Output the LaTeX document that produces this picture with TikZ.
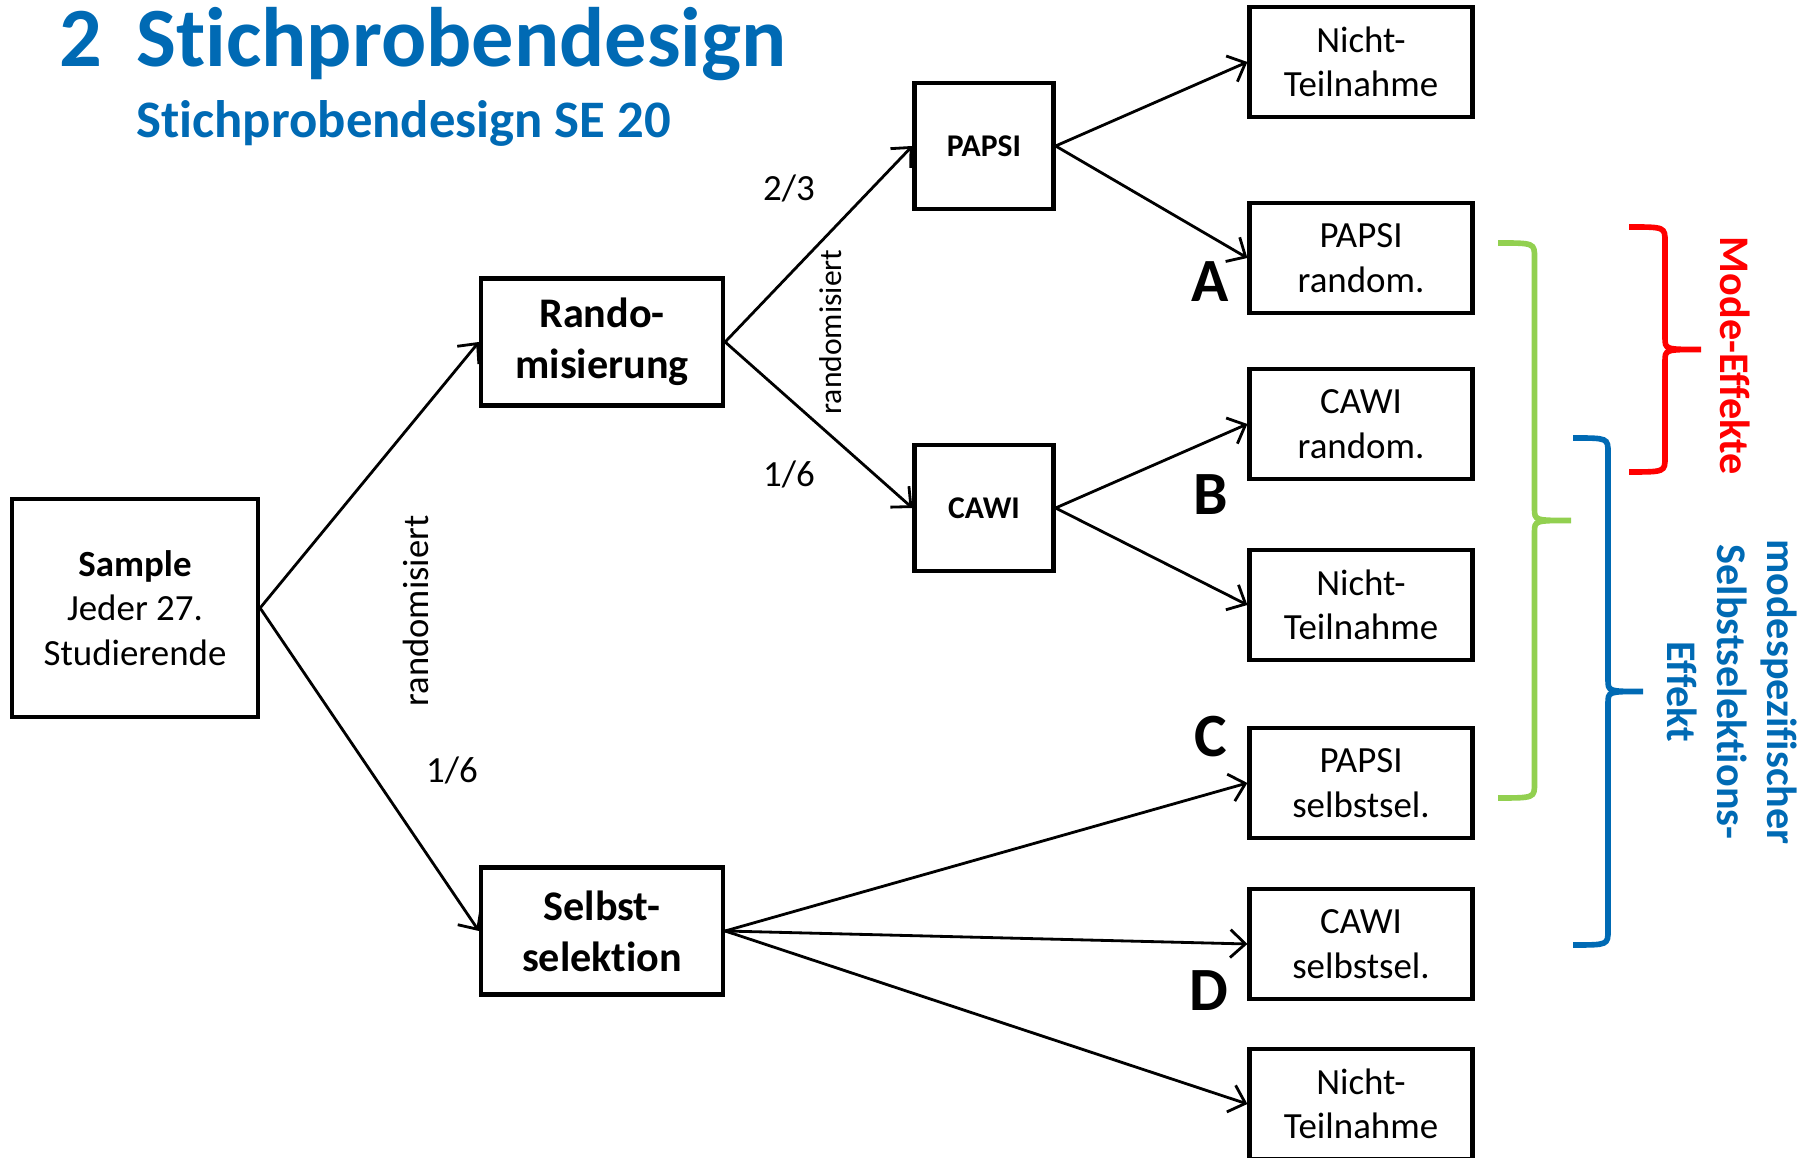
\documentclass[tikz,border=0pt]{standalone}
\usepackage{fontspec}
\setmainfont{Carlito}[Ligatures=NoCommon]
\usetikzlibrary{arrows.meta}
\definecolor{titleblue}{RGB}{0,106,180}
\definecolor{effgreen}{RGB}{146,208,80}
\definecolor{effred}{RGB}{255,0,0}
% colour, x, top, bottom, amplitude
\newcommand{\effbrace}[5]{%
  \draw[#1, line width=1.6pt] (#2,#3) .. controls ({#2+0.5*#5},#3) .. ({#2+0.5*#5},{#3-0.15})
    -- ({#2+0.5*#5},{(#3+#4)/2+0.12}) .. controls ({#2+0.5*#5},{(#3+#4)/2}) .. ({#2+#5},{(#3+#4)/2})
    .. controls ({#2+0.5*#5},{(#3+#4)/2}) .. ({#2+0.5*#5},{(#3+#4)/2-0.12})
    -- ({#2+0.5*#5},{#4+0.15}) .. controls ({#2+0.5*#5},#4) .. (#2,#4);}

\begin{document}
\begin{tikzpicture}[font=\fontsize{10.5}{12.7}\selectfont, line width=0.8pt,
    >={Straight Barb[length=1.5mm, width=2.8mm]},
    box/.style={draw, line width=1.2pt, align=center, inner sep=0pt},
    stage/.style={box, font=\bfseries\fontsize{12}{14.5}\selectfont, minimum width=2.42cm, minimum height=1.27cm},
    mode/.style={box, font=\bfseries\fontsize{9}{11}\selectfont, minimum width=1.39cm, minimum height=1.26cm},
    leaf/.style={box, minimum width=2.23cm, minimum height=1.1cm},
    letter/.style={font=\bfseries\fontsize{17.5}{20}\selectfont},
    heading/.style={anchor=base west, inner sep=0pt, text=titleblue},
    efftext/.style={rotate=-90, align=center, font=\bfseries\fontsize{12}{14.2}\selectfont}]
    \useasboundingbox (0,0) rectangle (18.16,11.58);

    \node[heading, font=\bfseries\fontsize{24}{28}\selectfont] (num) at (0.58, 10.91) {2};
    \node[heading, font=\bfseries\fontsize{24}{28}\selectfont] (title) at (1.35, 10.91) {Stichprobendesign};
    \node[heading, font=\bfseries\fontsize{15}{18}\selectfont] (subtitle) at (1.35, 10.20) {Stichprobendesign SE 20};

    \node[box, minimum width=2.46cm, minimum height=2.18cm] (sample) at (1.35, 5.50) {\textbf{Sample}\\Jeder 27.\\Studierende};
    \node[stage] (rando) at (6.02, 8.16) {Rando-\\misierung};
    \node[stage] (selbst) at (6.02, 2.27) {Selbst-\\selektion};
    \node[mode] (papsi) at (9.84, 10.12) {PAPSI};
    \node[mode] (cawi) at (9.84, 6.50) {CAWI};

    \node[leaf] (nicht1) at (13.61, 10.96) {Nicht-\\Teilnahme};
    \node[leaf] (paprand) at (13.61, 9.00) {PAPSI\\random.};
    \node[leaf] (cawrand) at (13.61, 7.34) {CAWI\\random.};
    \node[leaf] (nicht2) at (13.61, 5.53) {Nicht-\\Teilnahme};
    \node[leaf] (papsel) at (13.61, 3.75) {PAPSI\\selbstsel.};
    \node[leaf] (cawsel) at (13.61, 2.14) {CAWI\\selbstsel.};
    \node[leaf] (nicht3) at (13.61, 0.54) {Nicht-\\Teilnahme};

    \draw[->] (sample.east) -- (rando.west);
    \draw[->] (sample.east) -- (selbst.west);
    \draw[->] (rando.east) -- (papsi.west);
    \draw[->] (rando.east) -- (cawi.west);
    \draw[->] (papsi.east) -- (nicht1.west);
    \draw[->] (papsi.east) -- (paprand.west);
    \draw[->] (cawi.east) -- (cawrand.west);
    \draw[->] (cawi.east) -- (nicht2.west);
    \draw[->] (selbst.east) -- (papsel.west);
    \draw[->] (selbst.east) -- (cawsel.west);
    \draw[->] (selbst.east) -- (nicht3.west);

    \node(p23) at (7.89, 9.70) {2/3};
    \node(p16a) at (7.89, 6.84) {1/6};
    \node(p16b) at (4.52, 3.88) {1/6};
    \node[rotate=90, font=\fontsize{9}{11}\selectfont] (rand1) at (8.31, 8.26) {randomisiert};
    \node[rotate=90, font=\fontsize{10.4}{12.5}\selectfont] (rand2) at (4.16, 5.47) {randomisiert};

    \node[letter] (la) at (12.10, 8.76) {A};
    \node[letter] (lb) at (12.11, 6.63) {B};
    \node[letter] (lc) at (12.11, 4.21) {C};
    \node[letter] (ld) at (12.09, 1.67) {D};

    \effbrace{effgreen}{14.98}{9.15}{3.60}{0.73}
    \effbrace{effred}{16.29}{9.31}{6.86}{0.72}
    \effbrace{titleblue}{15.73}{7.20}{2.13}{0.70}

    \node[efftext, text=effred] (modeeff) at (17.35, 8.02) {Mode-Effekte};
    \node[efftext, text=titleblue] (selbsteff) at (17.32, 4.66) {modespezifischer\\Selbstselektions-\\Effekt};
\end{tikzpicture}
\end{document}
